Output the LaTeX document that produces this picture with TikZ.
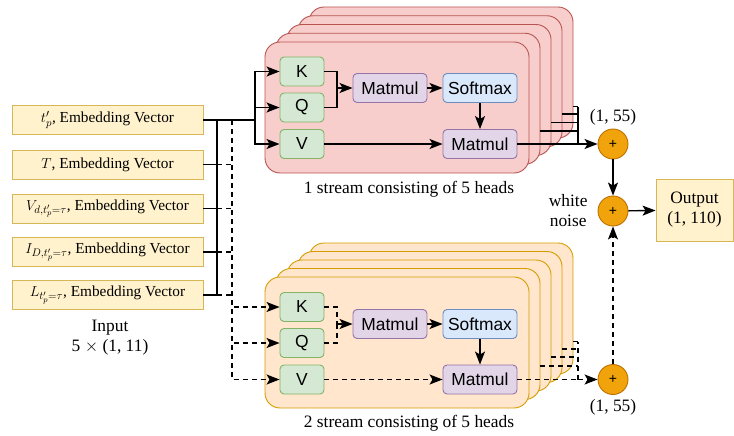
\documentclass[tikz,border=0pt]{standalone}
\usepackage{fontspec}
\setmainfont{Liberation Serif}
\setsansfont{Liberation Sans}
\usepackage{xcolor}
\usetikzlibrary{arrows.meta, positioning, calc}
\definecolor{inFill}{HTML}{FFF2CC}
\definecolor{inDraw}{HTML}{D6B656}
\definecolor{redFill}{HTML}{F8CECC}
\definecolor{redDraw}{HTML}{B85450}
\definecolor{orFill}{HTML}{FFE6CC}
\definecolor{orDraw}{HTML}{D79B00}
\definecolor{grFill}{HTML}{D5E8D4}
\definecolor{grDraw}{HTML}{82B366}
\definecolor{puFill}{HTML}{E1D5E7}
\definecolor{puDraw}{HTML}{9673A6}
\definecolor{blFill}{HTML}{DAE8FC}
\definecolor{blDraw}{HTML}{6C8EBF}
\definecolor{plusFill}{HTML}{F0A30A}
\definecolor{plusDraw}{HTML}{BD7000}
\NewDocumentCommand{\capfont}{}{\fontsize{17.4}{20}\selectfont}

\begin{document}
\begin{tikzpicture}[x=1pt,y=-1pt,line width=1.4pt,>={Stealth[length=13pt,width=10pt,inset=3pt]},
        inbox/.style={draw=inDraw,fill=inFill,line width=0.9pt,minimum width=191pt,minimum height=29pt,inner sep=0pt,font=\fontsize{15.3}{18}\selectfont},
        opbox/.style={rounded corners=4pt,line width=0.9pt,minimum height=29pt,inner sep=0pt,font=\sffamily\fontsize{17.4}{20}\selectfont},
        kqv/.style={opbox,draw=grDraw,fill=grFill,minimum width=44pt},
        matmul/.style={opbox,draw=puDraw,fill=puFill,minimum width=74pt},
        softmax/.style={opbox,draw=blDraw,fill=blFill,minimum width=74pt},
        cardA/.style={draw=redDraw,fill=redFill,line width=0.9pt,rounded corners=15pt},
        cardB/.style={draw=orDraw,fill=orFill,line width=0.9pt,rounded corners=15pt},
        plus/.style={circle,draw=plusDraw,fill=plusFill,line width=0.9pt,minimum size=30pt,inner sep=0pt,font=\sffamily\fontsize{14}{14}\selectfont},
        caption/.style={align=center,font=\capfont},
        dashline/.style={dash pattern=on 5pt off 4pt}]
    \useasboundingbox (0,0) rectangle (734,436);

    \node[inbox] (in1) at (107.5,120)   {$t'_p$, Embedding Vector};
    \node[inbox] (in2) at (107.5,164.5) {$T$, Embedding Vector};
    \node[inbox] (in3) at (107.5,208.5) {$V_{d,t'_p=\tau}$, Embedding Vector};
    \node[inbox] (in4) at (107.5,252)   {$I_{D,t'_p=\tau}$, Embedding Vector};
    \node[inbox] (in5) at (107.5,295)   {$L_{t'_p=\tau}$, Embedding Vector};
    \node[caption] (incap) at (110,338) {Input\\5 $\times$ (1, 11)};

    \foreach \k in {4,3,2,1,0} {
      \draw[cardA] ({265+11*\k},{42-8.75*\k}) rectangle ++(264,131);
      \draw[cardB] ({265+11*\k},{277-8.5*\k}) rectangle ++(264,131);
    }

    \node[kqv] (kA) at (302,71.5) {K};
    \node[kqv] (qA) at (302,107.5) {Q};
    \node[kqv] (vA) at (302,144) {V};
    \node[matmul] (mmA1) at (390,88) {Matmul};
    \node[softmax] (smA) at (480,88) {Softmax};
    \node[matmul] (mmA2) at (480,144) {Matmul};
    \node[caption] (capA) at (409,189) {1 stream consisting of 5 heads};

    \node[kqv] (kB) at (302,307) {K};
    \node[kqv] (qB) at (302,343) {Q};
    \node[kqv] (vB) at (302,379.5) {V};
    \node[matmul] (mmB1) at (390,324) {Matmul};
    \node[softmax] (smB) at (480,324) {Softmax};
    \node[matmul] (mmB2) at (480,379.5) {Matmul};
    \node[caption] (capB) at (409,423) {2 stream consisting of 5 heads};

    \node[plus] (addA) at (613,144) {+};
    \node[plus] (addN) at (613,211) {+};
    \node[plus] (addB) at (613,379.5) {+};
    \node[caption] at (613,117) {(1, 55)};
    \node[caption] at (613,407) {(1, 55)};
    \node[caption,left=6pt of addN] (noise) {white\\noise};
    \node[draw=inDraw,fill=inFill,line width=0.9pt,minimum width=77pt,minimum height=62pt,caption] (out) at (694.5,210) {Output\\(1, 110)};

    \coordinate (sbus) at (217,120);
    \coordinate (dbus) at (232,120);
    \coordinate (fanA) at (255,120);
    \coordinate (mA) at (337,88);
    \coordinate (mB) at (337,324);
    \coordinate (jA) at (578,144);
    \coordinate (jB) at (578,379.5);

    \foreach \i in {2,...,5} {
      \draw (in\i.east) -| (sbus);
      \draw[dashline] (in\i.east -| sbus) -- (in\i.east -| dbus);
    }
    \draw (in1.east) -- (fanA);
    \foreach \t in {kA,qA,vA} \draw[->] (fanA) |- (\t);
    \foreach \t in {kB,qB,vB} \draw[dashline,->] (dbus) |- (\t);

    \draw (kA.east) -| (mA);
    \draw (qA.east) -| (mA);
    \draw[->] (mA) -- (mmA1);
    \draw[->] (mmA1) -- (smA);
    \draw[->] (smA) -- (mmA2);
    \draw[->] (vA) -- (mmA2);
    \draw (mmA2) -- (jA);
    \draw[->] (jA) -- (addA);
    \foreach \k/\yy in {1/131,2/122.5,3/114,4/106.7}
      \draw ({529+11*\k},\yy) -- (jA |- 0,\yy);
    \draw (jA) -- (578,106.7);

    \draw[dashline] (kB.east) -| (mB);
    \draw[dashline] (qB.east) -| (mB);
    \draw[dashline,->] (mB) -- (mmB1);
    \draw[->] (mmB1) -- (smB);
    \draw[->] (smB) -- (mmB2);
    \draw[dashline,->] (vB) -- (mmB2);
    \draw[dashline] (mmB2) -- (jB);
    \draw[dashline,->] (jB) -- (addB);
    \foreach \k/\yy in {1/366,2/357,3/349,4/341.7}
      \draw[dashline] ({529+11*\k},\yy) -- (jB |- 0,\yy);
    \draw[dashline] (jB) -- (578,341.7);

    \draw[->] (addA) -- (addN);
    \draw[->] (addN) -- (out);
    \draw[dashline,->] (addB) -- (addN);
\end{tikzpicture}
\end{document}
